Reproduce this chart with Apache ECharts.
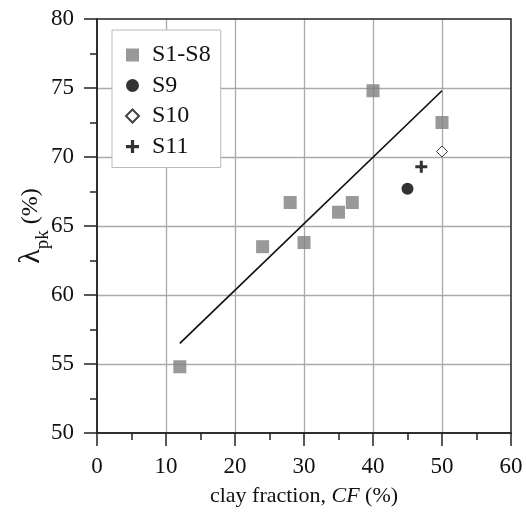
<!DOCTYPE html>
<html>
<head>
<meta charset="utf-8">
<script src="https://cdn.jsdelivr.net/npm/echarts@6/dist/echarts.min.js"></script>
<style>html,body{margin:0;padding:0;background:#fff}#c{width:526px;height:514px}</style>
</head>
<body>
<div id="c"></div>
<script>
// Data
var s18X = [12, 24, 28, 30, 35, 37, 40, 50];
var s18Y = [54.8, 63.5, 66.7, 63.8, 66.0, 66.7, 74.8, 72.5];
var s9X = [45];   var s9Y = [67.7];
var s10X = [50];  var s10Y = [70.4];
var s11X = [47];  var s11Y = [69.3];
var fitX = [12, 50];
var fitY = [56.5, 74.8];
var xTicks = [0, 10, 20, 30, 40, 50, 60];
var yTicks = [50, 55, 60, 65, 70, 75, 80];

function pairs(xs, ys) { return xs.map(function (x, i) { return [x, ys[i]]; }); }

var FONT = '"Liberation Serif", "DejaVu Serif", serif';
var plusPath = 'path://M3,0H5V3H8V5H5V8H3V5H0V3H3Z';

var chart = echarts.init(document.getElementById('c'), null, {renderer: 'canvas'});
chart.setOption({
  animation: false,
  backgroundColor: '#fff',
  textStyle: {fontFamily: FONT},
  grid: {left: 97, right: 15, top: 19, bottom: 81, show: true, borderColor: '#222', borderWidth: 1.5, backgroundColor: 'transparent', z: 3},
  legend: {
    data: ['S1-S8', 'S9', 'S10', 'S11'],
    orient: 'vertical',
    left: 112, top: 30,
    padding: [13, 10, 9, 13],
    itemWidth: 13, itemHeight: 13, itemGap: 6.5,
    symbolKeepAspect: true,
    backgroundColor: '#fff',
    borderColor: '#bbb', borderWidth: 1,
    formatter: '{t|{name}}',
    textStyle: {fontFamily: FONT, fontSize: 24, color: '#111', lineHeight: 24,
      rich: {t: {fontFamily: FONT, fontSize: 24, color: '#111', lineHeight: 24, padding: [0, 0, 0, 8]}}}
  },
  xAxis: {
    type: 'value', min: xTicks[0], max: xTicks[xTicks.length - 1], interval: 10,
    name: 'clay fraction, {i|CF} (%)',
    nameLocation: 'middle', nameGap: 52,
    nameTextStyle: {fontFamily: FONT, fontSize: 22, color: '#111', rich: {i: {fontFamily: FONT, fontSize: 22, fontStyle: 'italic', color: '#111'}}},
    axisLine: {show: true, lineStyle: {color: '#222', width: 1.5}},
    axisTick: {show: true, length: 13, lineStyle: {color: '#222', width: 1.5}},
    minorTick: {show: true, splitNumber: 2, length: 7, lineStyle: {color: '#222', width: 1.5}},
    axisLabel: {fontFamily: FONT, fontSize: 23, color: '#111', margin: 22},
    splitLine: {show: true, showMinLine: false, showMaxLine: false, lineStyle: {color: '#aaa', width: 1.3}}
  },
  yAxis: {
    type: 'value', min: yTicks[0], max: yTicks[yTicks.length - 1], interval: 5,
    name: '{g|λ}{s|pk}{l| (%)}',
    nameLocation: 'middle', nameGap: 51, nameRotate: 90, nameMoveOverlap: false,
    nameTextStyle: {fontFamily: FONT, fontSize: 24, color: '#111', rich: {
      g: {fontFamily: FONT, fontSize: 30, color: '#111'},
      l: {fontFamily: FONT, fontSize: 24, color: '#111'},
      s: {fontFamily: FONT, fontSize: 19, color: '#111', verticalAlign: 'bottom', padding: [0, 0, -7, 0]}
    }},
    axisLine: {show: true, lineStyle: {color: '#222', width: 1.5}},
    axisTick: {show: true, length: 13, lineStyle: {color: '#222', width: 1.5}},
    minorTick: {show: true, splitNumber: 2, length: 7, lineStyle: {color: '#222', width: 1.5}},
    axisLabel: {fontFamily: FONT, fontSize: 23, color: '#111', margin: 23},
    splitLine: {show: true, showMinLine: false, showMaxLine: false, lineStyle: {color: '#aaa', width: 1.3}}
  },
  series: [
    {name: 'fit', type: 'line', data: pairs(fitX, fitY), showSymbol: false, symbol: 'none', silent: true,
     lineStyle: {color: '#111', width: 1.7}, z: 4},
    {name: 'S1-S8', type: 'scatter', data: pairs(s18X, s18Y), symbol: 'rect', symbolSize: 13,
     itemStyle: {color: '#808080'}, z: 5},
    {name: 'S9', type: 'scatter', data: pairs(s9X, s9Y), symbol: 'circle', symbolSize: 12,
     itemStyle: {color: '#000'}, z: 5},
    {name: 'S10', type: 'scatter', data: pairs(s10X, s10Y), symbol: 'diamond', symbolSize: 11,
     itemStyle: {color: '#fff', borderColor: '#111', borderWidth: 1}, z: 5},
    {name: 'S11', type: 'scatter', data: pairs(s11X, s11Y), symbol: plusPath, symbolSize: 12,
     itemStyle: {color: '#000'}, z: 5}
  ]
});
</script>
</body>
</html>
